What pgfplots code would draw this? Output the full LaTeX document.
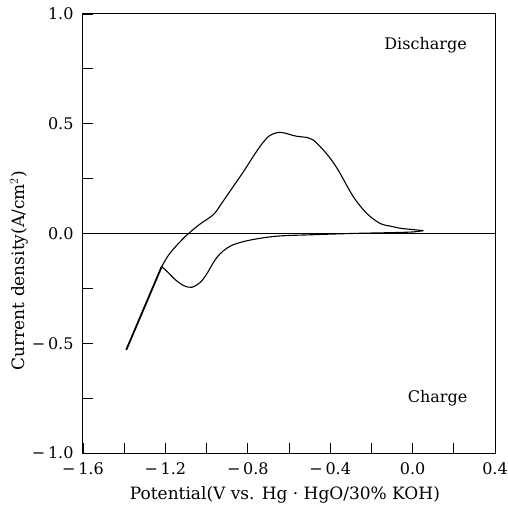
\documentclass[border=0pt]{standalone}
\usepackage{fontspec}
\setmainfont{DejaVu Serif}
\usepackage{pgfplots}
\pgfplotsset{compat=1.18}
\begin{document}
\fontsize{16}{19}\selectfont
\begin{tikzpicture}
\path[use as bounding box] (-83pt,-59pt) rectangle (424pt,453pt);
\begin{axis}[
  name=ax,
  at={(0pt,0pt)}, anchor=south west,
  scale only axis,
  width=412pt, height=439pt,
  xmin=-1.6, xmax=0.4, ymin=-1, ymax=1,
  xtick={-1.6,-1.2,-0.8,-0.4,0.0,0.4},
  xticklabels={−\,1.6,−\,1.2,−\,0.8,−\,0.4,0.0,0.4},
  minor xtick={-1.4,-1.0,-0.6,-0.2,0.2},
  ytick={-1,-0.5,0,0.5,1},
  yticklabels={−\,1.0,−\,0.5,0.0,0.5,1.0},
  minor ytick={-0.75,-0.25,0.25,0.75},
  tick align=inside,
  xtick pos=bottom, ytick pos=left,
  major tick length=10pt, minor tick length=10pt,
  tick style={black, line width=0.8pt},
  axis line style={line width=1pt},
  ticklabel style={font=\fontsize{16}{19}\selectfont},
  xticklabel style={anchor=north, yshift=-4pt},
  yticklabel style={anchor=east, xshift=-4pt},
  xlabel={Potential(V vs. Hg · HgO/30\% KOH)},
  ylabel={Current density(A/cm$^{2}$)},
  label style={font=\fontsize{17}{20}\selectfont},
  xlabel style={at={(axis description cs:0.49,-0.095)}, anchor=center},
  ylabel style={at={(axis description cs:-0.155,0.415)}, anchor=center},
  clip=false,
]
% zero line
\addplot[black, line width=0.8pt] coordinates {(-1.6,0) (0.4,0)};
% linear section (double trace)
\addplot[black, line width=1.8pt] coordinates {(-1.39,-0.53) (-1.218,-0.151)};
% anodic sweep
\addplot[black, line width=1.1pt, smooth, tension=0.55] coordinates {
(-1.218,-0.151) (-1.178,-0.090) (-1.105,-0.015) (-1.032,0.043) (-0.967,0.086)
(-0.925,0.140) (-0.870,0.215) (-0.820,0.283) (-0.773,0.352) (-0.730,0.410)
(-0.692,0.447) (-0.644,0.461) (-0.600,0.452) (-0.563,0.443) (-0.510,0.437)
(-0.482,0.426) (-0.433,0.380) (-0.390,0.330) (-0.352,0.274) (-0.288,0.168)
(-0.223,0.092) (-0.158,0.046) (-0.100,0.032) (-0.061,0.024) (0.000,0.018)
(0.052,0.013)};
% cathodic sweep
\addplot[black, line width=1.1pt, smooth, tension=0.55] coordinates {
(0.052,0.013) (0.000,0.007) (-0.100,0.004) (-0.300,0.000) (-0.500,-0.006)
(-0.644,-0.011) (-0.741,-0.022) (-0.822,-0.037) (-0.880,-0.055) (-0.920,-0.080)
(-0.951,-0.110) (-0.975,-0.145) (-1.000,-0.185) (-1.030,-0.222) (-1.072,-0.245)
(-1.110,-0.238) (-1.150,-0.212) (-1.190,-0.175) (-1.218,-0.151)};
\node[font=\fontsize{16}{19}\selectfont] at (axis cs:0.063,0.859) {Discharge};
\node[font=\fontsize{16}{19}\selectfont] at (axis cs:0.121,-0.749) {Charge};
\end{axis}
\end{tikzpicture}
\end{document}
